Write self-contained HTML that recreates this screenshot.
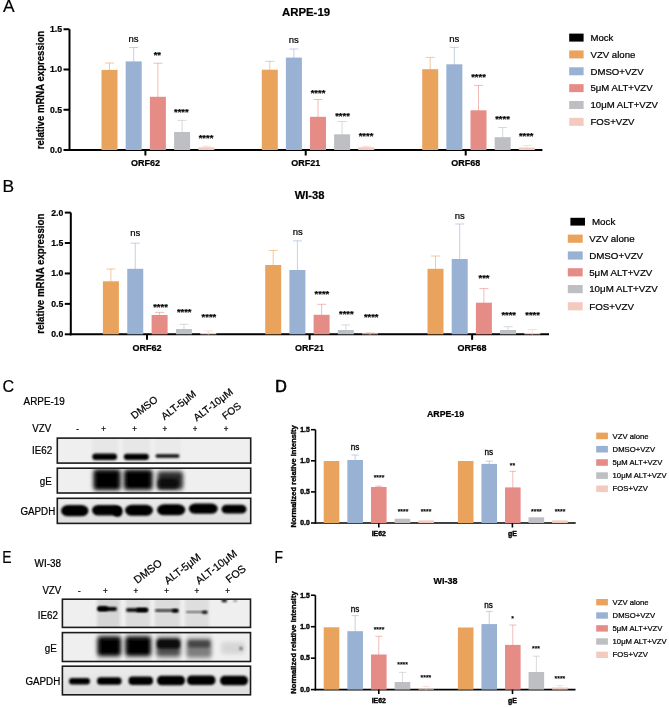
<!DOCTYPE html>
<html><head><meta charset="utf-8"><title>Figure</title>
<style>html,body{margin:0;padding:0;background:#fff;overflow:hidden;width:669px;height:708px;} svg{display:block;} text{fill:#000;stroke:#000;stroke-width:0.22px;}</style>
</head><body>
<svg width="669" height="708" viewBox="0 0 669 708" font-family='"Liberation Sans", sans-serif'>
<defs>
<filter id="b1" x="-20%" y="-50%" width="140%" height="200%"><feGaussianBlur stdDeviation="0.9"/></filter>
<filter id="b2" x="-30%" y="-50%" width="160%" height="200%"><feGaussianBlur stdDeviation="1.6"/></filter>
<filter id="b3" x="-30%" y="-50%" width="160%" height="200%"><feGaussianBlur stdDeviation="2.1"/></filter>
</defs>
<linearGradient id="gg" x1="0" y1="0" x2="0" y2="1"><stop offset="0" stop-color="#ECECEC"/><stop offset="1" stop-color="#DDDDDD"/></linearGradient>
<filter id="soft" x="0" y="0" width="100%" height="100%"><feGaussianBlur stdDeviation="0.35"/></filter>
<rect width="669" height="708" fill="#fff"/>
<g filter="url(#soft)">
<rect width="669" height="708" fill="#fff"/>
<text x="3.00" y="11.90" font-size="17.4" font-weight="normal" text-anchor="start" >A</text>
<text x="2.50" y="192.00" font-size="17.4" font-weight="normal" text-anchor="start" >B</text>
<text transform="translate(2.50,391.80) scale(0.93,1)" font-size="17.4" font-weight="normal" text-anchor="start" >C</text>
<text transform="translate(275.20,391.70) scale(0.92,1)" font-size="17.4" font-weight="normal" text-anchor="start" style="stroke-width:0.7px">D</text>
<text transform="translate(2.20,563.30) scale(0.8,1)" font-size="17.4" font-weight="normal" text-anchor="start" >E</text>
<text transform="translate(274.50,563.00) scale(0.8,1)" font-size="17.4" font-weight="normal" text-anchor="start" >F</text>
<text x="306.00" y="15.70" font-size="11.4" font-weight="bold" text-anchor="middle" >ARPE-19</text>
<line x1="69.50" y1="29.30" x2="69.50" y2="151.00" stroke="#000" stroke-width="2" />
<line x1="68.50" y1="150.00" x2="542.40" y2="150.00" stroke="#000" stroke-width="2" />
<line x1="63.50" y1="150.00" x2="69.50" y2="150.00" stroke="#000" stroke-width="2" />
<text x="62.00" y="152.99" font-size="8.7" font-weight="bold" text-anchor="end" >0.0</text>
<line x1="63.50" y1="109.75" x2="69.50" y2="109.75" stroke="#000" stroke-width="2" />
<text x="62.00" y="112.74" font-size="8.7" font-weight="bold" text-anchor="end" >0.5</text>
<line x1="63.50" y1="69.50" x2="69.50" y2="69.50" stroke="#000" stroke-width="2" />
<text x="62.00" y="72.49" font-size="8.7" font-weight="bold" text-anchor="end" >1.0</text>
<line x1="63.50" y1="29.25" x2="69.50" y2="29.25" stroke="#000" stroke-width="2" />
<text x="62.00" y="32.24" font-size="8.7" font-weight="bold" text-anchor="end" >1.5</text>
<line x1="109.50" y1="63.00" x2="109.50" y2="71.90" stroke="#EAA35B" stroke-width="0.9" opacity="0.65"/>
<line x1="105.00" y1="63.00" x2="114.00" y2="63.00" stroke="#EAA35B" stroke-width="0.9" opacity="0.65"/>
<rect x="101.50" y="69.90" width="16.00" height="80.10" fill="#EAA35B" />
<line x1="133.70" y1="47.50" x2="133.70" y2="63.40" stroke="#99B1D3" stroke-width="0.9" opacity="0.65"/>
<line x1="129.20" y1="47.50" x2="138.20" y2="47.50" stroke="#99B1D3" stroke-width="0.9" opacity="0.65"/>
<rect x="125.70" y="61.40" width="16.00" height="88.60" fill="#99B1D3" />
<line x1="157.90" y1="63.20" x2="157.90" y2="98.80" stroke="#E68C86" stroke-width="0.9" opacity="0.65"/>
<line x1="153.40" y1="63.20" x2="162.40" y2="63.20" stroke="#E68C86" stroke-width="0.9" opacity="0.65"/>
<rect x="149.90" y="96.80" width="16.00" height="53.20" fill="#E68C86" />
<line x1="182.10" y1="120.40" x2="182.10" y2="134.00" stroke="#BDBFC3" stroke-width="0.9" opacity="0.65"/>
<line x1="177.60" y1="120.40" x2="186.60" y2="120.40" stroke="#BDBFC3" stroke-width="0.9" opacity="0.65"/>
<rect x="174.10" y="132.00" width="16.00" height="18.00" fill="#BDBFC3" />
<line x1="206.30" y1="146.20" x2="206.30" y2="149.30" stroke="#F4CABF" stroke-width="0.9" opacity="0.65"/>
<line x1="201.80" y1="146.20" x2="210.80" y2="146.20" stroke="#F4CABF" stroke-width="0.9" opacity="0.65"/>
<rect x="198.30" y="147.30" width="16.00" height="2.70" fill="#F4CABF" />
<line x1="145.40" y1="150.00" x2="145.40" y2="155.50" stroke="#000" stroke-width="2" />
<text transform="translate(145.40,166.30) scale(1,1.1)" font-size="9" font-weight="bold" text-anchor="middle" >ORF62</text>
<text x="133.60" y="41.51" font-size="9.5" font-weight="normal" text-anchor="middle" >ns</text>
<text x="157.30" y="57.52" font-size="9.4" font-weight="bold" text-anchor="middle" >**</text>
<text x="181.30" y="115.02" font-size="9.4" font-weight="bold" text-anchor="middle" >****</text>
<text x="206.00" y="141.02" font-size="9.4" font-weight="bold" text-anchor="middle" >****</text>
<line x1="269.80" y1="61.40" x2="269.80" y2="71.70" stroke="#EAA35B" stroke-width="0.9" opacity="0.65"/>
<line x1="265.30" y1="61.40" x2="274.30" y2="61.40" stroke="#EAA35B" stroke-width="0.9" opacity="0.65"/>
<rect x="261.80" y="69.70" width="16.00" height="80.30" fill="#EAA35B" />
<line x1="293.90" y1="49.00" x2="293.90" y2="59.60" stroke="#99B1D3" stroke-width="0.9" opacity="0.65"/>
<line x1="289.40" y1="49.00" x2="298.40" y2="49.00" stroke="#99B1D3" stroke-width="0.9" opacity="0.65"/>
<rect x="285.90" y="57.60" width="16.00" height="92.40" fill="#99B1D3" />
<line x1="318.00" y1="99.50" x2="318.00" y2="118.80" stroke="#E68C86" stroke-width="0.9" opacity="0.65"/>
<line x1="313.50" y1="99.50" x2="322.50" y2="99.50" stroke="#E68C86" stroke-width="0.9" opacity="0.65"/>
<rect x="310.00" y="116.80" width="16.00" height="33.20" fill="#E68C86" />
<line x1="342.10" y1="121.50" x2="342.10" y2="136.30" stroke="#BDBFC3" stroke-width="0.9" opacity="0.65"/>
<line x1="337.60" y1="121.50" x2="346.60" y2="121.50" stroke="#BDBFC3" stroke-width="0.9" opacity="0.65"/>
<rect x="334.10" y="134.30" width="16.00" height="15.70" fill="#BDBFC3" />
<line x1="366.20" y1="146.30" x2="366.20" y2="149.30" stroke="#F4CABF" stroke-width="0.9" opacity="0.65"/>
<line x1="361.70" y1="146.30" x2="370.70" y2="146.30" stroke="#F4CABF" stroke-width="0.9" opacity="0.65"/>
<rect x="358.20" y="147.30" width="16.00" height="2.70" fill="#F4CABF" />
<line x1="305.70" y1="150.00" x2="305.70" y2="155.50" stroke="#000" stroke-width="2" />
<text transform="translate(305.70,166.30) scale(1,1.1)" font-size="9" font-weight="bold" text-anchor="middle" >ORF21</text>
<text x="293.80" y="43.01" font-size="9.5" font-weight="normal" text-anchor="middle" >ns</text>
<text x="318.00" y="95.72" font-size="9.4" font-weight="bold" text-anchor="middle" >****</text>
<text x="342.50" y="118.82" font-size="9.4" font-weight="bold" text-anchor="middle" >****</text>
<text x="366.00" y="138.72" font-size="9.4" font-weight="bold" text-anchor="middle" >****</text>
<line x1="430.20" y1="57.40" x2="430.20" y2="71.20" stroke="#EAA35B" stroke-width="0.9" opacity="0.65"/>
<line x1="425.70" y1="57.40" x2="434.70" y2="57.40" stroke="#EAA35B" stroke-width="0.9" opacity="0.65"/>
<rect x="422.20" y="69.20" width="16.00" height="80.80" fill="#EAA35B" />
<line x1="454.35" y1="47.30" x2="454.35" y2="66.30" stroke="#99B1D3" stroke-width="0.9" opacity="0.65"/>
<line x1="449.85" y1="47.30" x2="458.85" y2="47.30" stroke="#99B1D3" stroke-width="0.9" opacity="0.65"/>
<rect x="446.35" y="64.30" width="16.00" height="85.70" fill="#99B1D3" />
<line x1="478.50" y1="85.40" x2="478.50" y2="112.30" stroke="#E68C86" stroke-width="0.9" opacity="0.65"/>
<line x1="474.00" y1="85.40" x2="483.00" y2="85.40" stroke="#E68C86" stroke-width="0.9" opacity="0.65"/>
<rect x="470.50" y="110.30" width="16.00" height="39.70" fill="#E68C86" />
<line x1="502.65" y1="127.50" x2="502.65" y2="139.20" stroke="#BDBFC3" stroke-width="0.9" opacity="0.65"/>
<line x1="498.15" y1="127.50" x2="507.15" y2="127.50" stroke="#BDBFC3" stroke-width="0.9" opacity="0.65"/>
<rect x="494.65" y="137.20" width="16.00" height="12.80" fill="#BDBFC3" />
<line x1="526.80" y1="145.50" x2="526.80" y2="149.50" stroke="#F4CABF" stroke-width="0.9" opacity="0.65"/>
<line x1="522.30" y1="145.50" x2="531.30" y2="145.50" stroke="#F4CABF" stroke-width="0.9" opacity="0.65"/>
<rect x="518.80" y="147.50" width="16.00" height="2.50" fill="#F4CABF" />
<line x1="465.70" y1="150.00" x2="465.70" y2="155.50" stroke="#000" stroke-width="2" />
<text transform="translate(465.70,166.30) scale(1,1.1)" font-size="9" font-weight="bold" text-anchor="middle" >ORF68</text>
<text x="454.30" y="42.11" font-size="9.5" font-weight="normal" text-anchor="middle" >ns</text>
<text x="478.50" y="80.42" font-size="9.4" font-weight="bold" text-anchor="middle" >****</text>
<text x="502.50" y="122.02" font-size="9.4" font-weight="bold" text-anchor="middle" >****</text>
<text x="526.20" y="138.72" font-size="9.4" font-weight="bold" text-anchor="middle" >****</text>
<rect x="569.20" y="33.60" width="14.40" height="8.00" fill="#000" />
<text x="590.50" y="40.90" font-size="9.6" font-weight="normal" text-anchor="start" >Mock</text>
<rect x="569.20" y="50.45" width="14.40" height="8.00" fill="#EAA35B" />
<text x="590.50" y="57.75" font-size="9.6" font-weight="normal" text-anchor="start" >VZV alone</text>
<rect x="569.20" y="67.30" width="14.40" height="8.00" fill="#99B1D3" />
<text x="590.50" y="74.60" font-size="9.6" font-weight="normal" text-anchor="start" >DMSO+VZV</text>
<rect x="569.20" y="84.15" width="14.40" height="8.00" fill="#E68C86" />
<text x="590.50" y="91.45" font-size="9.6" font-weight="normal" text-anchor="start" >5μM ALT+VZV</text>
<rect x="569.20" y="101.00" width="14.40" height="8.00" fill="#BDBFC3" />
<text x="590.50" y="108.30" font-size="9.6" font-weight="normal" text-anchor="start" >10μM ALT+VZV</text>
<rect x="569.20" y="117.85" width="14.40" height="8.00" fill="#F4CABF" />
<text x="590.50" y="125.15" font-size="9.6" font-weight="normal" text-anchor="start" >FOS+VZV</text>
<text x="309.60" y="199.10" font-size="11.2" font-weight="bold" text-anchor="middle" >WI-38</text>
<line x1="70.80" y1="212.60" x2="70.80" y2="335.30" stroke="#000" stroke-width="2" />
<line x1="69.80" y1="334.30" x2="549.00" y2="334.30" stroke="#000" stroke-width="2" />
<line x1="64.80" y1="334.30" x2="70.80" y2="334.30" stroke="#000" stroke-width="2" />
<text x="63.30" y="337.29" font-size="8.7" font-weight="bold" text-anchor="end" >0.0</text>
<line x1="64.80" y1="303.88" x2="70.80" y2="303.88" stroke="#000" stroke-width="2" />
<text x="63.30" y="306.87" font-size="8.7" font-weight="bold" text-anchor="end" >0.5</text>
<line x1="64.80" y1="273.45" x2="70.80" y2="273.45" stroke="#000" stroke-width="2" />
<text x="63.30" y="276.44" font-size="8.7" font-weight="bold" text-anchor="end" >1.0</text>
<line x1="64.80" y1="243.03" x2="70.80" y2="243.03" stroke="#000" stroke-width="2" />
<text x="63.30" y="246.02" font-size="8.7" font-weight="bold" text-anchor="end" >1.5</text>
<line x1="64.80" y1="212.60" x2="70.80" y2="212.60" stroke="#000" stroke-width="2" />
<text x="63.30" y="215.59" font-size="8.7" font-weight="bold" text-anchor="end" >2.0</text>
<line x1="110.90" y1="269.00" x2="110.90" y2="283.30" stroke="#EAA35B" stroke-width="0.9" opacity="0.65"/>
<line x1="106.40" y1="269.00" x2="115.40" y2="269.00" stroke="#EAA35B" stroke-width="0.9" opacity="0.65"/>
<rect x="102.90" y="281.30" width="16.00" height="53.00" fill="#EAA35B" />
<line x1="135.25" y1="243.20" x2="135.25" y2="270.80" stroke="#99B1D3" stroke-width="0.9" opacity="0.65"/>
<line x1="130.75" y1="243.20" x2="139.75" y2="243.20" stroke="#99B1D3" stroke-width="0.9" opacity="0.65"/>
<rect x="127.25" y="268.80" width="16.00" height="65.50" fill="#99B1D3" />
<line x1="159.60" y1="312.40" x2="159.60" y2="317.00" stroke="#E68C86" stroke-width="0.9" opacity="0.65"/>
<line x1="155.10" y1="312.40" x2="164.10" y2="312.40" stroke="#E68C86" stroke-width="0.9" opacity="0.65"/>
<rect x="151.60" y="315.00" width="16.00" height="19.30" fill="#E68C86" />
<line x1="183.95" y1="324.30" x2="183.95" y2="331.00" stroke="#BDBFC3" stroke-width="0.9" opacity="0.65"/>
<line x1="179.45" y1="324.30" x2="188.45" y2="324.30" stroke="#BDBFC3" stroke-width="0.9" opacity="0.65"/>
<rect x="175.95" y="329.00" width="16.00" height="5.30" fill="#BDBFC3" />
<line x1="208.30" y1="331.00" x2="208.30" y2="335.00" stroke="#F4CABF" stroke-width="0.9" opacity="0.65"/>
<line x1="203.80" y1="331.00" x2="212.80" y2="331.00" stroke="#F4CABF" stroke-width="0.9" opacity="0.65"/>
<rect x="200.30" y="333.00" width="16.00" height="1.30" fill="#F4CABF" />
<line x1="147.00" y1="334.30" x2="147.00" y2="339.80" stroke="#000" stroke-width="2" />
<text transform="translate(147.00,351.00) scale(1,1.1)" font-size="9" font-weight="bold" text-anchor="middle" >ORF62</text>
<text x="135.30" y="236.21" font-size="9.5" font-weight="normal" text-anchor="middle" >ns</text>
<text x="160.50" y="309.92" font-size="9.4" font-weight="bold" text-anchor="middle" >****</text>
<text x="184.20" y="315.32" font-size="9.4" font-weight="bold" text-anchor="middle" >****</text>
<text x="208.90" y="320.02" font-size="9.4" font-weight="bold" text-anchor="middle" >****</text>
<line x1="273.20" y1="250.40" x2="273.20" y2="267.00" stroke="#EAA35B" stroke-width="0.9" opacity="0.65"/>
<line x1="268.70" y1="250.40" x2="277.70" y2="250.40" stroke="#EAA35B" stroke-width="0.9" opacity="0.65"/>
<rect x="265.20" y="265.00" width="16.00" height="69.30" fill="#EAA35B" />
<line x1="297.40" y1="240.80" x2="297.40" y2="272.00" stroke="#99B1D3" stroke-width="0.9" opacity="0.65"/>
<line x1="292.90" y1="240.80" x2="301.90" y2="240.80" stroke="#99B1D3" stroke-width="0.9" opacity="0.65"/>
<rect x="289.40" y="270.00" width="16.00" height="64.30" fill="#99B1D3" />
<line x1="321.60" y1="304.30" x2="321.60" y2="316.80" stroke="#E68C86" stroke-width="0.9" opacity="0.65"/>
<line x1="317.10" y1="304.30" x2="326.10" y2="304.30" stroke="#E68C86" stroke-width="0.9" opacity="0.65"/>
<rect x="313.60" y="314.80" width="16.00" height="19.50" fill="#E68C86" />
<line x1="345.80" y1="324.90" x2="345.80" y2="332.00" stroke="#BDBFC3" stroke-width="0.9" opacity="0.65"/>
<line x1="341.30" y1="324.90" x2="350.30" y2="324.90" stroke="#BDBFC3" stroke-width="0.9" opacity="0.65"/>
<rect x="337.80" y="330.00" width="16.00" height="4.30" fill="#BDBFC3" />
<line x1="370.00" y1="332.50" x2="370.00" y2="335.30" stroke="#F4CABF" stroke-width="0.9" opacity="0.65"/>
<line x1="365.50" y1="332.50" x2="374.50" y2="332.50" stroke="#F4CABF" stroke-width="0.9" opacity="0.65"/>
<rect x="362.00" y="333.30" width="16.00" height="1.00" fill="#F4CABF" />
<line x1="309.60" y1="334.30" x2="309.60" y2="339.80" stroke="#000" stroke-width="2" />
<text transform="translate(309.60,351.00) scale(1,1.1)" font-size="9" font-weight="bold" text-anchor="middle" >ORF21</text>
<text x="297.70" y="235.01" font-size="9.5" font-weight="normal" text-anchor="middle" >ns</text>
<text x="321.90" y="296.62" font-size="9.4" font-weight="bold" text-anchor="middle" >****</text>
<text x="346.30" y="316.82" font-size="9.4" font-weight="bold" text-anchor="middle" >****</text>
<text x="371.20" y="319.92" font-size="9.4" font-weight="bold" text-anchor="middle" >****</text>
<line x1="435.50" y1="256.00" x2="435.50" y2="270.80" stroke="#EAA35B" stroke-width="0.9" opacity="0.65"/>
<line x1="431.00" y1="256.00" x2="440.00" y2="256.00" stroke="#EAA35B" stroke-width="0.9" opacity="0.65"/>
<rect x="427.50" y="268.80" width="16.00" height="65.50" fill="#EAA35B" />
<line x1="459.70" y1="224.00" x2="459.70" y2="261.00" stroke="#99B1D3" stroke-width="0.9" opacity="0.65"/>
<line x1="455.20" y1="224.00" x2="464.20" y2="224.00" stroke="#99B1D3" stroke-width="0.9" opacity="0.65"/>
<rect x="451.70" y="259.00" width="16.00" height="75.30" fill="#99B1D3" />
<line x1="483.90" y1="288.60" x2="483.90" y2="304.70" stroke="#E68C86" stroke-width="0.9" opacity="0.65"/>
<line x1="479.40" y1="288.60" x2="488.40" y2="288.60" stroke="#E68C86" stroke-width="0.9" opacity="0.65"/>
<rect x="475.90" y="302.70" width="16.00" height="31.60" fill="#E68C86" />
<line x1="508.10" y1="326.70" x2="508.10" y2="332.00" stroke="#BDBFC3" stroke-width="0.9" opacity="0.65"/>
<line x1="503.60" y1="326.70" x2="512.60" y2="326.70" stroke="#BDBFC3" stroke-width="0.9" opacity="0.65"/>
<rect x="500.10" y="330.00" width="16.00" height="4.30" fill="#BDBFC3" />
<line x1="532.30" y1="329.60" x2="532.30" y2="335.00" stroke="#F4CABF" stroke-width="0.9" opacity="0.65"/>
<line x1="527.80" y1="329.60" x2="536.80" y2="329.60" stroke="#F4CABF" stroke-width="0.9" opacity="0.65"/>
<rect x="524.30" y="333.00" width="16.00" height="1.30" fill="#F4CABF" />
<line x1="472.10" y1="334.30" x2="472.10" y2="339.80" stroke="#000" stroke-width="2" />
<text transform="translate(472.10,351.00) scale(1,1.1)" font-size="9" font-weight="bold" text-anchor="middle" >ORF68</text>
<text x="459.80" y="218.91" font-size="9.5" font-weight="normal" text-anchor="middle" >ns</text>
<text x="484.00" y="281.42" font-size="9.4" font-weight="bold" text-anchor="middle" >***</text>
<text x="508.70" y="317.92" font-size="9.4" font-weight="bold" text-anchor="middle" >****</text>
<text x="532.60" y="317.92" font-size="9.4" font-weight="bold" text-anchor="middle" >****</text>
<rect x="570.40" y="217.80" width="14.60" height="7.80" fill="#000" />
<text x="592.00" y="225.05" font-size="9.75" font-weight="normal" text-anchor="start" >Mock</text>
<rect x="567.80" y="234.60" width="14.90" height="8.20" fill="#EAA35B" />
<text x="589.20" y="242.05" font-size="9.75" font-weight="normal" text-anchor="start" >VZV alone</text>
<rect x="567.80" y="251.40" width="14.90" height="8.20" fill="#99B1D3" />
<text x="589.20" y="258.85" font-size="9.75" font-weight="normal" text-anchor="start" >DMSO+VZV</text>
<rect x="567.80" y="268.20" width="14.90" height="8.20" fill="#E68C86" />
<text x="589.20" y="275.65" font-size="9.75" font-weight="normal" text-anchor="start" >5μM ALT+VZV</text>
<rect x="567.80" y="285.00" width="14.90" height="8.20" fill="#BDBFC3" />
<text x="589.20" y="292.45" font-size="9.75" font-weight="normal" text-anchor="start" >10μM ALT+VZV</text>
<rect x="567.80" y="302.20" width="14.90" height="8.20" fill="#F4CABF" />
<text x="589.20" y="309.65" font-size="9.75" font-weight="normal" text-anchor="start" >FOS+VZV</text>
<text x="445.50" y="417.30" font-size="8.8" font-weight="bold" text-anchor="middle" >ARPE-19</text>
<line x1="315.50" y1="429.70" x2="315.50" y2="523.80" stroke="#000" stroke-width="1.6" />
<line x1="314.70" y1="523.00" x2="575.70" y2="523.00" stroke="#000" stroke-width="1.6" />
<line x1="311.00" y1="523.00" x2="315.50" y2="523.00" stroke="#000" stroke-width="1.6" />
<text x="309.80" y="525.34" font-size="6.8" font-weight="bold" text-anchor="end" style="stroke-width:0.4px">0.0</text>
<line x1="311.00" y1="491.90" x2="315.50" y2="491.90" stroke="#000" stroke-width="1.6" />
<text x="309.80" y="494.24" font-size="6.8" font-weight="bold" text-anchor="end" style="stroke-width:0.4px">0.5</text>
<line x1="311.00" y1="460.80" x2="315.50" y2="460.80" stroke="#000" stroke-width="1.6" />
<text x="309.80" y="463.14" font-size="6.8" font-weight="bold" text-anchor="end" style="stroke-width:0.4px">1.0</text>
<line x1="311.00" y1="429.70" x2="315.50" y2="429.70" stroke="#000" stroke-width="1.6" />
<text x="309.80" y="432.04" font-size="6.8" font-weight="bold" text-anchor="end" style="stroke-width:0.4px">1.5</text>
<rect x="323.70" y="461.00" width="15.60" height="62.00" fill="#EAA35B" />
<line x1="355.15" y1="455.00" x2="355.15" y2="462.00" stroke="#99B1D3" stroke-width="0.9" opacity="0.65"/>
<line x1="351.65" y1="455.00" x2="358.65" y2="455.00" stroke="#99B1D3" stroke-width="0.9" opacity="0.65"/>
<rect x="347.35" y="460.00" width="15.60" height="63.00" fill="#99B1D3" />
<line x1="378.80" y1="486.20" x2="378.80" y2="489.00" stroke="#E68C86" stroke-width="0.9" opacity="0.65"/>
<line x1="375.30" y1="486.20" x2="382.30" y2="486.20" stroke="#E68C86" stroke-width="0.9" opacity="0.65"/>
<rect x="371.00" y="487.00" width="15.60" height="36.00" fill="#E68C86" />
<rect x="394.65" y="518.70" width="15.60" height="4.30" fill="#BDBFC3" />
<rect x="418.30" y="520.40" width="15.60" height="2.60" fill="#F4CABF" />
<line x1="378.80" y1="523.00" x2="378.80" y2="527.50" stroke="#000" stroke-width="1.6" />
<text x="378.80" y="536.30" font-size="6.9" font-weight="bold" text-anchor="middle" style="stroke-width:0.4px">IE62</text>
<text x="355.00" y="450.46" font-size="8.2" font-weight="normal" text-anchor="middle" style="stroke-width:0.28px">ns</text>
<text x="379.00" y="480.01" font-size="6.8" font-weight="bold" text-anchor="middle" style="stroke-width:0.12px">****</text>
<text x="403.00" y="513.71" font-size="6.8" font-weight="bold" text-anchor="middle" style="stroke-width:0.12px">****</text>
<text x="426.00" y="513.71" font-size="6.8" font-weight="bold" text-anchor="middle" style="stroke-width:0.12px">****</text>
<rect x="457.90" y="461.00" width="15.60" height="62.00" fill="#EAA35B" />
<line x1="489.25" y1="461.20" x2="489.25" y2="465.90" stroke="#99B1D3" stroke-width="0.9" opacity="0.65"/>
<line x1="485.75" y1="461.20" x2="492.75" y2="461.20" stroke="#99B1D3" stroke-width="0.9" opacity="0.65"/>
<rect x="481.45" y="463.90" width="15.60" height="59.10" fill="#99B1D3" />
<line x1="512.80" y1="471.30" x2="512.80" y2="489.40" stroke="#E68C86" stroke-width="0.9" opacity="0.65"/>
<line x1="509.30" y1="471.30" x2="516.30" y2="471.30" stroke="#E68C86" stroke-width="0.9" opacity="0.65"/>
<rect x="505.00" y="487.40" width="15.60" height="35.60" fill="#E68C86" />
<rect x="528.55" y="517.30" width="15.60" height="5.70" fill="#BDBFC3" />
<rect x="552.10" y="520.40" width="15.60" height="2.60" fill="#F4CABF" />
<line x1="512.40" y1="523.00" x2="512.40" y2="527.50" stroke="#000" stroke-width="1.6" />
<text x="512.40" y="536.30" font-size="6.9" font-weight="bold" text-anchor="middle" style="stroke-width:0.4px">gE</text>
<text x="488.90" y="455.26" font-size="8.2" font-weight="normal" text-anchor="middle" style="stroke-width:0.28px">ns</text>
<text x="512.40" y="468.41" font-size="6.8" font-weight="bold" text-anchor="middle" style="stroke-width:0.12px">**</text>
<text x="536.40" y="513.91" font-size="6.8" font-weight="bold" text-anchor="middle" style="stroke-width:0.12px">****</text>
<text x="560.00" y="513.91" font-size="6.8" font-weight="bold" text-anchor="middle" style="stroke-width:0.12px">****</text>
<rect x="596.20" y="432.60" width="11.70" height="6.60" fill="#EAA35B" />
<text x="612.60" y="438.55" font-size="7.7" font-weight="normal" text-anchor="start" >VZV alone</text>
<rect x="596.20" y="445.90" width="11.70" height="6.60" fill="#99B1D3" />
<text x="612.60" y="451.85" font-size="7.7" font-weight="normal" text-anchor="start" >DMSO+VZV</text>
<rect x="596.20" y="459.20" width="11.70" height="6.60" fill="#E68C86" />
<text x="612.60" y="465.15" font-size="7.7" font-weight="normal" text-anchor="start" >5μM ALT+VZV</text>
<rect x="596.20" y="472.30" width="11.70" height="6.60" fill="#BDBFC3" />
<text x="612.60" y="478.25" font-size="7.7" font-weight="normal" text-anchor="start" >10μM ALT+VZV</text>
<rect x="596.20" y="485.50" width="11.70" height="6.60" fill="#F4CABF" />
<text x="612.60" y="491.45" font-size="7.7" font-weight="normal" text-anchor="start" >FOS+VZV</text>
<text x="445.50" y="583.90" font-size="9" font-weight="bold" text-anchor="middle" >WI-38</text>
<line x1="315.40" y1="595.30" x2="315.40" y2="690.40" stroke="#000" stroke-width="1.6" />
<line x1="314.60" y1="689.60" x2="575.50" y2="689.60" stroke="#000" stroke-width="1.6" />
<line x1="310.90" y1="689.60" x2="315.40" y2="689.60" stroke="#000" stroke-width="1.6" />
<text x="309.70" y="691.94" font-size="6.8" font-weight="bold" text-anchor="end" style="stroke-width:0.4px">0.0</text>
<line x1="310.90" y1="658.15" x2="315.40" y2="658.15" stroke="#000" stroke-width="1.6" />
<text x="309.70" y="660.49" font-size="6.8" font-weight="bold" text-anchor="end" style="stroke-width:0.4px">0.5</text>
<line x1="310.90" y1="626.70" x2="315.40" y2="626.70" stroke="#000" stroke-width="1.6" />
<text x="309.70" y="629.04" font-size="6.8" font-weight="bold" text-anchor="end" style="stroke-width:0.4px">1.0</text>
<line x1="310.90" y1="595.25" x2="315.40" y2="595.25" stroke="#000" stroke-width="1.6" />
<text x="309.70" y="597.59" font-size="6.8" font-weight="bold" text-anchor="end" style="stroke-width:0.4px">1.5</text>
<rect x="323.70" y="627.30" width="15.60" height="62.30" fill="#EAA35B" />
<line x1="355.15" y1="615.60" x2="355.15" y2="633.20" stroke="#99B1D3" stroke-width="0.9" opacity="0.65"/>
<line x1="351.65" y1="615.60" x2="358.65" y2="615.60" stroke="#99B1D3" stroke-width="0.9" opacity="0.65"/>
<rect x="347.35" y="631.20" width="15.60" height="58.40" fill="#99B1D3" />
<line x1="378.80" y1="636.30" x2="378.80" y2="656.50" stroke="#E68C86" stroke-width="0.9" opacity="0.65"/>
<line x1="375.30" y1="636.30" x2="382.30" y2="636.30" stroke="#E68C86" stroke-width="0.9" opacity="0.65"/>
<rect x="371.00" y="654.50" width="15.60" height="35.10" fill="#E68C86" />
<line x1="402.45" y1="672.40" x2="402.45" y2="684.00" stroke="#BDBFC3" stroke-width="0.9" opacity="0.65"/>
<line x1="398.95" y1="672.40" x2="405.95" y2="672.40" stroke="#BDBFC3" stroke-width="0.9" opacity="0.65"/>
<rect x="394.65" y="682.00" width="15.60" height="7.60" fill="#BDBFC3" />
<line x1="426.10" y1="686.50" x2="426.10" y2="690.60" stroke="#F4CABF" stroke-width="0.9" opacity="0.65"/>
<line x1="422.60" y1="686.50" x2="429.60" y2="686.50" stroke="#F4CABF" stroke-width="0.9" opacity="0.65"/>
<rect x="418.30" y="688.60" width="15.60" height="1.00" fill="#F4CABF" />
<line x1="378.80" y1="689.60" x2="378.80" y2="694.10" stroke="#000" stroke-width="1.6" />
<text x="378.80" y="703.00" font-size="6.9" font-weight="bold" text-anchor="middle" style="stroke-width:0.4px">IE62</text>
<text x="355.00" y="611.56" font-size="8.2" font-weight="normal" text-anchor="middle" style="stroke-width:0.28px">ns</text>
<text x="379.00" y="632.21" font-size="6.8" font-weight="bold" text-anchor="middle" style="stroke-width:0.12px">****</text>
<text x="402.60" y="666.91" font-size="6.8" font-weight="bold" text-anchor="middle" style="stroke-width:0.12px">****</text>
<text x="425.90" y="680.01" font-size="6.8" font-weight="bold" text-anchor="middle" style="stroke-width:0.12px">****</text>
<rect x="457.90" y="627.50" width="15.60" height="62.10" fill="#EAA35B" />
<line x1="489.25" y1="611.40" x2="489.25" y2="626.10" stroke="#99B1D3" stroke-width="0.9" opacity="0.65"/>
<line x1="485.75" y1="611.40" x2="492.75" y2="611.40" stroke="#99B1D3" stroke-width="0.9" opacity="0.65"/>
<rect x="481.45" y="624.10" width="15.60" height="65.50" fill="#99B1D3" />
<line x1="512.80" y1="625.00" x2="512.80" y2="646.90" stroke="#E68C86" stroke-width="0.9" opacity="0.65"/>
<line x1="509.30" y1="625.00" x2="516.30" y2="625.00" stroke="#E68C86" stroke-width="0.9" opacity="0.65"/>
<rect x="505.00" y="644.90" width="15.60" height="44.70" fill="#E68C86" />
<line x1="536.35" y1="656.20" x2="536.35" y2="674.00" stroke="#BDBFC3" stroke-width="0.9" opacity="0.65"/>
<line x1="532.85" y1="656.20" x2="539.85" y2="656.20" stroke="#BDBFC3" stroke-width="0.9" opacity="0.65"/>
<rect x="528.55" y="672.00" width="15.60" height="17.60" fill="#BDBFC3" />
<line x1="559.90" y1="685.60" x2="559.90" y2="689.50" stroke="#F4CABF" stroke-width="0.9" opacity="0.65"/>
<line x1="556.40" y1="685.60" x2="563.40" y2="685.60" stroke="#F4CABF" stroke-width="0.9" opacity="0.65"/>
<rect x="552.10" y="687.50" width="15.60" height="2.10" fill="#F4CABF" />
<line x1="512.50" y1="689.60" x2="512.50" y2="694.10" stroke="#000" stroke-width="1.6" />
<text x="512.50" y="703.00" font-size="6.9" font-weight="bold" text-anchor="middle" style="stroke-width:0.4px">gE</text>
<text x="488.60" y="607.66" font-size="8.2" font-weight="normal" text-anchor="middle" style="stroke-width:0.28px">ns</text>
<text x="512.50" y="620.81" font-size="6.8" font-weight="bold" text-anchor="middle" style="stroke-width:0.12px">*</text>
<text x="536.00" y="650.71" font-size="6.8" font-weight="bold" text-anchor="middle" style="stroke-width:0.12px">***</text>
<text x="559.90" y="680.61" font-size="6.8" font-weight="bold" text-anchor="middle" style="stroke-width:0.12px">****</text>
<rect x="596.20" y="599.00" width="11.70" height="6.40" fill="#EAA35B" />
<text x="612.60" y="604.85" font-size="7.7" font-weight="normal" text-anchor="start" >VZV alone</text>
<rect x="596.20" y="612.30" width="11.70" height="6.40" fill="#99B1D3" />
<text x="612.60" y="618.15" font-size="7.7" font-weight="normal" text-anchor="start" >DMSO+VZV</text>
<rect x="596.20" y="625.20" width="11.70" height="6.40" fill="#E68C86" />
<text x="612.60" y="631.05" font-size="7.7" font-weight="normal" text-anchor="start" >5μM ALT+VZV</text>
<rect x="596.20" y="638.30" width="11.70" height="6.40" fill="#BDBFC3" />
<text x="612.60" y="644.15" font-size="7.7" font-weight="normal" text-anchor="start" >10μM ALT+VZV</text>
<rect x="596.20" y="651.60" width="11.70" height="6.40" fill="#F4CABF" />
<text x="612.60" y="657.45" font-size="7.7" font-weight="normal" text-anchor="start" >FOS+VZV</text>
<text transform="translate(43.50,90.10) rotate(-90) scale(1,1.1)" font-size="9.6" font-weight="bold" text-anchor="middle" style="">relative mRNA expression</text>
<text transform="translate(43.50,273.70) rotate(-90) scale(1,1.1)" font-size="9.75" font-weight="bold" text-anchor="middle" style="">relative mRNA expression</text>
<text transform="translate(295.50,476.40) rotate(-90) scale(1,1)" font-size="7.55" font-weight="bold" text-anchor="middle" style="stroke-width:0.35px">Normalized relative Intensity</text>
<text transform="translate(295.50,642.50) rotate(-90) scale(1,1)" font-size="7.55" font-weight="bold" text-anchor="middle" style="stroke-width:0.35px">Normalized relative Intensity</text>
<text transform="translate(23.60,404.50) scale(1,1.13)" font-size="9.9" font-weight="normal" text-anchor="start" >ARPE-19</text>
<text transform="translate(32.30,431.90) scale(1,1.13)" font-size="9.7" font-weight="normal" text-anchor="start" >VZV</text>
<text transform="translate(77.50,432.00) scale(1,1.13)" font-size="8" font-weight="normal" text-anchor="middle" >-</text>
<text transform="translate(103.70,432.00) scale(1,1.13)" font-size="8" font-weight="normal" text-anchor="middle" >+</text>
<text transform="translate(134.70,432.00) scale(1,1.13)" font-size="8" font-weight="normal" text-anchor="middle" >+</text>
<text transform="translate(164.80,432.00) scale(1,1.13)" font-size="8" font-weight="normal" text-anchor="middle" >+</text>
<text transform="translate(195.10,432.00) scale(1,1.13)" font-size="8" font-weight="normal" text-anchor="middle" >+</text>
<text transform="translate(226.10,432.00) scale(1,1.13)" font-size="8" font-weight="normal" text-anchor="middle" >+</text>
<text transform="translate(134.30,419.60) rotate(-37.5)" font-size="10.2">DMSO</text>
<text transform="translate(164.50,420.20) rotate(-37.5)" font-size="10.2">ALT-5μM</text>
<text transform="translate(196.80,421.50) rotate(-37.5)" font-size="10.2">ALT-10μM</text>
<text transform="translate(225.40,420.00) rotate(-37.5)" font-size="10.2">FOS</text>
<text transform="translate(52.20,453.60) scale(1,1.13)" font-size="9.8" font-weight="normal" text-anchor="end" >IE62</text>
<text transform="translate(51.80,484.60) scale(1,1.13)" font-size="9.8" font-weight="normal" text-anchor="end" >gE</text>
<text transform="translate(55.20,514.90) scale(1,1.13)" font-size="9.8" font-weight="normal" text-anchor="end" >GAPDH</text>
<clipPath id="clipC0"><rect x="57.3" y="438.1" width="193.39999999999998" height="25.0"/></clipPath>
<g clip-path="url(#clipC0)">
<rect x="57.30" y="438.10" width="193.40" height="25.00" fill="#EFEFEF" />
<rect x="92.00" y="434.10" width="26.00" height="33.00" fill="#000" opacity="0.03" filter="url(#b2)"/>
<rect x="123.00" y="434.10" width="27.00" height="33.00" fill="#000" opacity="0.03" filter="url(#b2)"/>
<rect x="155.00" y="434.10" width="26.00" height="33.00" fill="#000" opacity="0.02" filter="url(#b2)"/>
<rect x="92.30" y="453.55" width="24.70" height="6.50" rx="3.25" fill="#000" opacity="1" filter="url(#b1)"/>
<rect x="123.80" y="453.70" width="25.10" height="6.20" rx="3.10" fill="#000" opacity="1" filter="url(#b1)"/>
<rect x="155.50" y="454.20" width="24.00" height="3.60" rx="1.80" fill="#000" opacity="0.95" filter="url(#b1)"/>
</g>
<rect x="57.30" y="438.10" width="193.40" height="25.00" fill="none" stroke="#1a1a1a" stroke-width="1.6"/>
<clipPath id="clipC1"><rect x="57.3" y="468.2" width="193.39999999999998" height="24.80000000000001"/></clipPath>
<g clip-path="url(#clipC1)">
<rect x="57.30" y="468.20" width="193.40" height="24.80" fill="#EFEFEF" />
<rect x="93.00" y="464.20" width="28.00" height="32.80" fill="#000" opacity="0.04" filter="url(#b2)"/>
<rect x="123.00" y="464.20" width="29.00" height="32.80" fill="#000" opacity="0.04" filter="url(#b2)"/>
<rect x="156.00" y="464.20" width="26.00" height="32.80" fill="#000" opacity="0.03" filter="url(#b2)"/>
<rect x="93.50" y="469.45" width="27.00" height="20.50" rx="3.00" fill="#000" opacity="1" filter="url(#b3)"/>
<rect x="124.00" y="469.70" width="28.50" height="20.00" rx="3.00" fill="#000" opacity="1" filter="url(#b3)"/>
<rect x="157.50" y="471.50" width="25.50" height="18.00" rx="3.00" fill="#000" opacity="0.82" filter="url(#b3)"/>
<rect x="157.50" y="479.00" width="20.50" height="10.00" rx="3.00" fill="#000" opacity="0.7" filter="url(#b2)"/>
</g>
<rect x="57.30" y="468.20" width="193.40" height="24.80" fill="none" stroke="#1a1a1a" stroke-width="1.6"/>
<clipPath id="clipC2"><rect x="57.3" y="498.3" width="193.39999999999998" height="25.099999999999966"/></clipPath>
<g clip-path="url(#clipC2)">
<rect x="57.30" y="498.30" width="193.40" height="25.10" fill="url(#gg)" />
<rect x="61.00" y="505.10" width="27.50" height="11.20" rx="7.00" fill="#000" opacity="1" filter="url(#b1)"/>
<rect x="92.00" y="505.00" width="29.00" height="10.60" rx="6.00" fill="#000" opacity="1" filter="url(#b1)"/>
<rect x="113.00" y="506.25" width="9.50" height="10.50" rx="4.50" fill="#000" opacity="1" filter="url(#b1)"/>
<rect x="125.00" y="504.80" width="28.00" height="11.00" rx="7.00" fill="#000" opacity="1" filter="url(#b1)"/>
<rect x="157.00" y="504.30" width="28.30" height="11.00" rx="7.00" fill="#000" opacity="1" filter="url(#b1)"/>
<rect x="188.80" y="503.40" width="29.00" height="10.40" rx="6.50" fill="#000" opacity="1" filter="url(#b1)"/>
<rect x="221.50" y="504.80" width="25.00" height="8.80" rx="5.00" fill="#000" opacity="1" filter="url(#b1)"/>
</g>
<rect x="57.30" y="498.30" width="193.40" height="25.10" fill="none" stroke="#1a1a1a" stroke-width="1.6"/>
<text transform="translate(34.60,566.80) scale(1,1.13)" font-size="9.9" font-weight="normal" text-anchor="start" >WI-38</text>
<text transform="translate(42.40,594.10) scale(1,1.13)" font-size="9.7" font-weight="normal" text-anchor="start" >VZV</text>
<text transform="translate(79.30,594.40) scale(1,1.13)" font-size="8" font-weight="normal" text-anchor="middle" >-</text>
<text transform="translate(105.40,594.40) scale(1,1.13)" font-size="8" font-weight="normal" text-anchor="middle" >+</text>
<text transform="translate(135.90,594.40) scale(1,1.13)" font-size="8" font-weight="normal" text-anchor="middle" >+</text>
<text transform="translate(166.50,594.40) scale(1,1.13)" font-size="8" font-weight="normal" text-anchor="middle" >+</text>
<text transform="translate(196.90,594.40) scale(1,1.13)" font-size="8" font-weight="normal" text-anchor="middle" >+</text>
<text transform="translate(227.50,594.40) scale(1,1.13)" font-size="8" font-weight="normal" text-anchor="middle" >+</text>
<text transform="translate(137.30,583.90) rotate(-37.5)" font-size="10.7">DMSO</text>
<text transform="translate(167.70,584.70) rotate(-37.5)" font-size="10.7">ALT-5μM</text>
<text transform="translate(199.10,584.70) rotate(-37.5)" font-size="10.7">ALT-10μM</text>
<text transform="translate(229.30,583.50) rotate(-37.5)" font-size="10.7">FOS</text>
<text transform="translate(57.90,618.70) scale(1,1.13)" font-size="9.8" font-weight="normal" text-anchor="end" >IE62</text>
<text transform="translate(56.70,651.90) scale(1,1.13)" font-size="9.8" font-weight="normal" text-anchor="end" >gE</text>
<text transform="translate(60.20,684.80) scale(1,1.13)" font-size="9.8" font-weight="normal" text-anchor="end" >GAPDH</text>
<clipPath id="clipE0"><rect x="62.4" y="599.2" width="188.1" height="28.199999999999932"/></clipPath>
<g clip-path="url(#clipE0)">
<rect x="62.40" y="599.20" width="188.10" height="28.20" fill="#EFEFEF" />
<rect x="97.00" y="595.20" width="23.00" height="36.20" fill="#000" opacity="0.1" filter="url(#b2)"/>
<rect x="126.00" y="595.20" width="24.00" height="36.20" fill="#000" opacity="0.08" filter="url(#b2)"/>
<rect x="155.00" y="595.20" width="25.00" height="36.20" fill="#000" opacity="0.08" filter="url(#b2)"/>
<rect x="185.00" y="595.20" width="24.00" height="36.20" fill="#000" opacity="0.07" filter="url(#b2)"/>
<rect x="97.50" y="607.10" width="19.50" height="3.80" rx="1.90" fill="#000" opacity="1" filter="url(#b1)"/>
<rect x="97.50" y="606.20" width="10.50" height="4.80" rx="2.00" fill="#000" opacity="1" filter="url(#b1)"/>
<rect x="126.00" y="608.30" width="22.00" height="3.40" rx="1.70" fill="#000" opacity="1" filter="url(#b1)"/>
<rect x="136.00" y="607.90" width="12.00" height="4.20" rx="2.00" fill="#000" opacity="1" filter="url(#b1)"/>
<rect x="155.00" y="609.30" width="23.00" height="2.40" rx="1.20" fill="#000" opacity="0.8" filter="url(#b1)"/>
<rect x="172.00" y="609.00" width="6.50" height="3.60" rx="1.50" fill="#000" opacity="1" filter="url(#b1)"/>
<rect x="186.00" y="611.00" width="21.00" height="2.00" rx="1.00" fill="#000" opacity="0.5" filter="url(#b1)"/>
<rect x="202.00" y="610.70" width="5.50" height="3.00" rx="1.50" fill="#000" opacity="0.9" filter="url(#b1)"/>
<rect x="221.50" y="598.75" width="5.50" height="3.50" rx="1.50" fill="#000" opacity="0.9" filter="url(#b1)"/>
<rect x="233.50" y="599.80" width="3.50" height="2.00" rx="1.00" fill="#000" opacity="0.5" filter="url(#b1)"/>
</g>
<rect x="62.40" y="599.20" width="188.10" height="28.20" fill="none" stroke="#1a1a1a" stroke-width="1.6"/>
<clipPath id="clipE1"><rect x="62.4" y="632.6" width="188.1" height="28.899999999999977"/></clipPath>
<g clip-path="url(#clipE1)">
<rect x="62.40" y="632.60" width="188.10" height="28.90" fill="#EFEFEF" />
<rect x="97.00" y="628.60" width="24.00" height="36.90" fill="#000" opacity="0.06" filter="url(#b2)"/>
<rect x="125.00" y="628.60" width="27.00" height="36.90" fill="#000" opacity="0.06" filter="url(#b2)"/>
<rect x="156.00" y="628.60" width="25.00" height="36.90" fill="#000" opacity="0.05" filter="url(#b2)"/>
<rect x="186.00" y="628.60" width="26.00" height="36.90" fill="#000" opacity="0.04" filter="url(#b2)"/>
<rect x="97.50" y="636.45" width="23.50" height="19.50" rx="3.00" fill="#000" opacity="1" filter="url(#b3)"/>
<rect x="125.50" y="636.45" width="25.50" height="19.50" rx="3.00" fill="#000" opacity="1" filter="url(#b3)"/>
<rect x="156.50" y="637.50" width="24.00" height="19.00" rx="3.00" fill="#000" opacity="0.65" filter="url(#b3)"/>
<rect x="157.00" y="639.50" width="23.00" height="9.00" rx="3.00" fill="#000" opacity="0.9" filter="url(#b2)"/>
<rect x="186.50" y="638.50" width="25.00" height="19.00" rx="3.00" fill="#000" opacity="0.45" filter="url(#b3)"/>
<rect x="188.00" y="640.50" width="22.00" height="7.00" rx="2.00" fill="#000" opacity="0.45" filter="url(#b2)"/>
<rect x="221.00" y="642.00" width="24.00" height="12.00" rx="3.00" fill="#000" opacity="0.1" filter="url(#b3)"/>
<rect x="239.00" y="646.50" width="4.00" height="4.00" rx="2.00" fill="#000" opacity="0.4" filter="url(#b1)"/>
</g>
<rect x="62.40" y="632.60" width="188.10" height="28.90" fill="none" stroke="#1a1a1a" stroke-width="1.6"/>
<clipPath id="clipE2"><rect x="62.4" y="666.2" width="188.1" height="28.59999999999991"/></clipPath>
<g clip-path="url(#clipE2)">
<rect x="62.40" y="666.20" width="188.10" height="28.60" fill="url(#gg)" />
<rect x="69.00" y="678.05" width="21.00" height="6.50" rx="3.00" fill="#000" opacity="1" filter="url(#b1)"/>
<rect x="97.00" y="677.25" width="24.60" height="7.50" rx="3.50" fill="#000" opacity="1" filter="url(#b1)"/>
<rect x="128.50" y="676.55" width="24.50" height="8.50" rx="4.00" fill="#000" opacity="1" filter="url(#b1)"/>
<rect x="157.00" y="675.75" width="28.00" height="9.50" rx="4.50" fill="#000" opacity="1" filter="url(#b1)"/>
<rect x="187.00" y="675.45" width="28.50" height="9.50" rx="4.50" fill="#000" opacity="1" filter="url(#b1)"/>
<rect x="220.00" y="675.85" width="28.00" height="9.50" rx="4.50" fill="#000" opacity="1" filter="url(#b1)"/>
</g>
<rect x="62.40" y="666.20" width="188.10" height="28.60" fill="none" stroke="#1a1a1a" stroke-width="1.6"/>
</g>
</svg>
</body></html>
